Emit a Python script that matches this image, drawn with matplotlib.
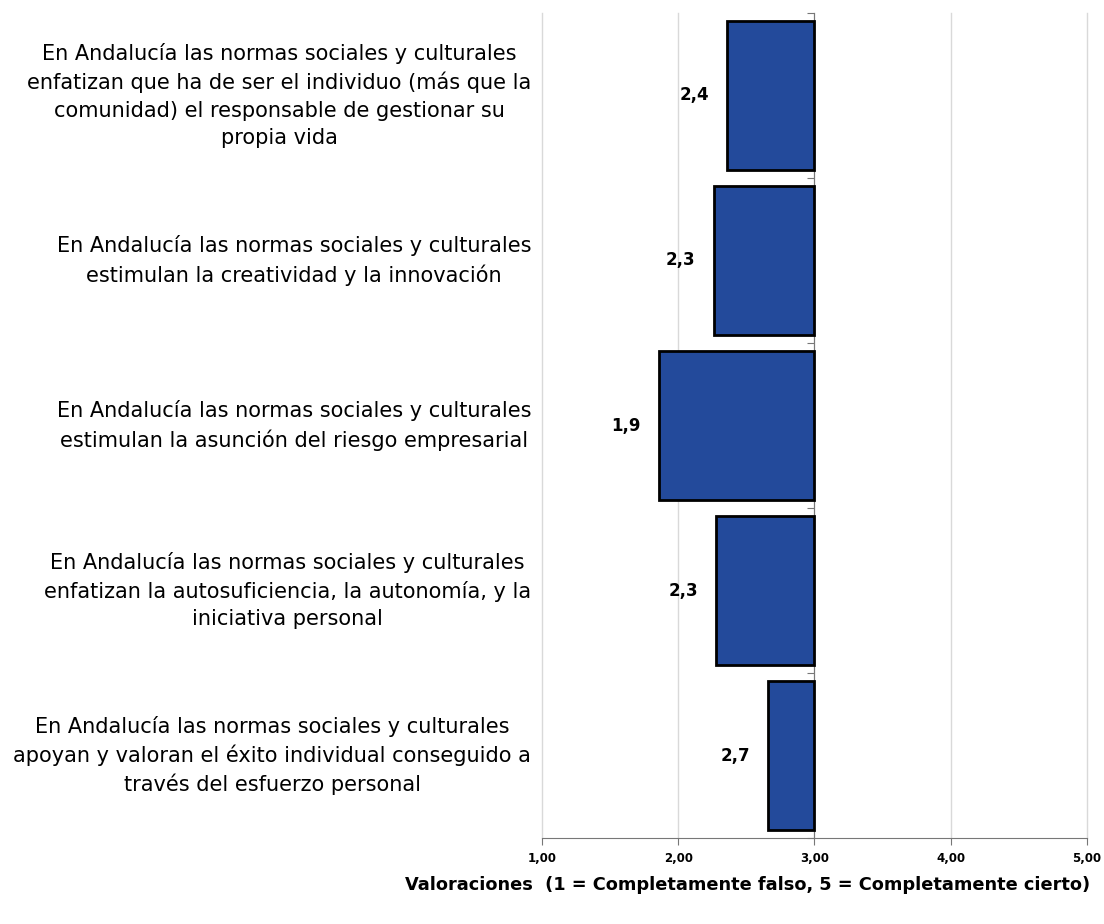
import matplotlib.pyplot as plt
from matplotlib.ticker import FuncFormatter
from matplotlib.transforms import blended_transform_factory

categories = [
    "En Andalucía las normas sociales y culturales\nenfatizan que ha de ser el individuo (más que la\ncomunidad) el responsable de gestionar su\npropia vida",
    "En Andalucía las normas sociales y culturales\nestimulan la creatividad y la innovación",
    "En Andalucía las normas sociales y culturales\nestimulan la asunción del riesgo empresarial",
    "En Andalucía las normas sociales y culturales\nenfatizan la autosuficiencia, la autonomía, y la\niniciativa personal",
    "En Andalucía las normas sociales y culturales\napoyan y valoran el éxito individual conseguido a\ntravés del esfuerzo personal",
]
values = [2.36, 2.26, 1.86, 2.28, 2.66]
base = 3.0

fig = plt.figure(figsize=(11.04, 9.24), dpi=100)
ax = fig.add_axes([0.491, 0.093, 0.4935, 0.893])

y = list(range(len(values)))
ax.barh(y, [v - base for v in values], left=base, height=0.9,
        color="#234A9B", edgecolor="black", linewidth=2, zorder=3)

for yi, v in zip(y, values):
    ax.annotate(f"{v:.1f}".replace(".", ","), (v, yi), xytext=(-13, 0),
                textcoords="offset points", ha="right", va="center",
                fontsize=12, fontweight="bold")

trans = blended_transform_factory(ax.transAxes, ax.transData)
for yi, lab in zip(y, categories):
    ax.text(-0.02, yi, lab, transform=trans, ha="right", va="center",
            multialignment="center", fontsize=15, linespacing=1.45)

ax.set_xlim(1, 5)
ax.set_ylim(len(values) - 0.5, -0.5)
ax.set_xticks([1, 2, 3, 4, 5])
ax.xaxis.set_major_formatter(FuncFormatter(lambda x, p: f"{x:.2f}".replace(".", ",")))
for t in ax.get_xticklabels():
    t.set_fontweight("bold")
ax.tick_params(axis="x", labelsize=8.5, length=5, color="#777777", pad=5)
ax.set_yticks([i - 0.5 for i in range(len(values) + 1)])
ax.set_yticklabels([])
ax.tick_params(axis="y", length=5, color="#777777")
ax.grid(axis="x", color="#d9d9d9", linewidth=1, zorder=0)
for gl in ax.get_xgridlines():
    gl.set_clip_on(False)

ax.spines["left"].set_position(("data", base))
ax.spines["left"].set_color("#777777")
ax.spines["bottom"].set_color("#777777")
ax.spines["top"].set_visible(False)
ax.spines["right"].set_visible(False)

fig.text(0.677, 0.042, "Valoraciones  (1 = Completamente falso, 5 = Completamente cierto)",
         ha="center", va="center", fontsize=12.8, fontweight="bold")

fig.savefig("out.png", dpi=100)
